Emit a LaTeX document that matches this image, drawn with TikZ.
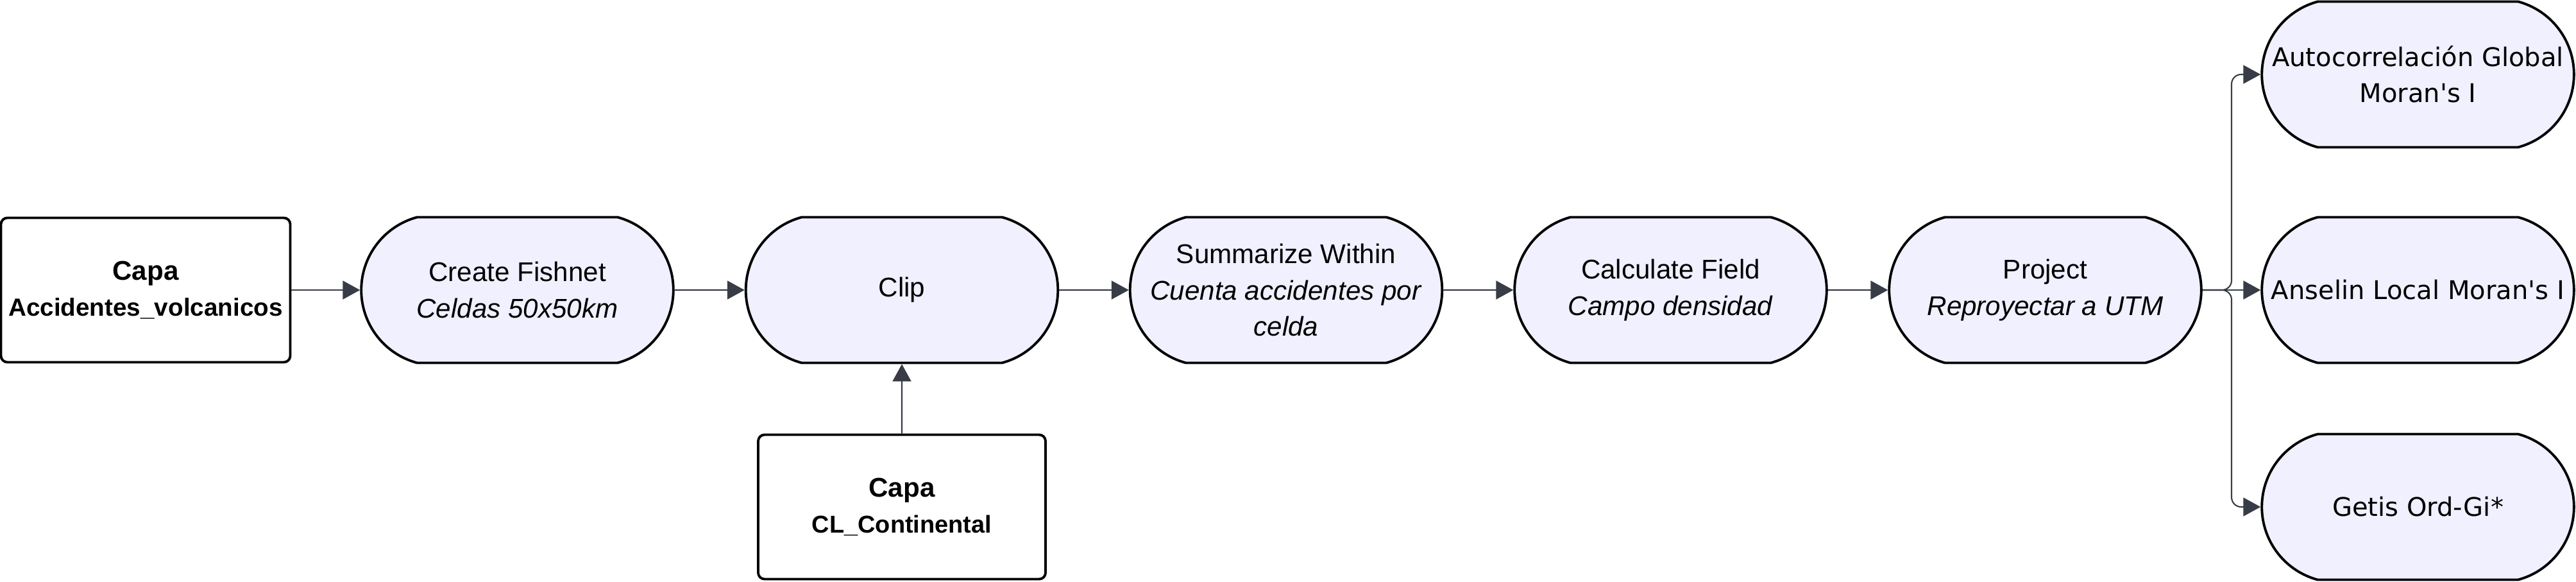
\documentclass[tikz,border=0pt]{standalone}
\usepackage{fontspec}
\setmainfont{Liberation Sans}
\newfontfamily\widefont{DejaVu Sans}
\usetikzlibrary{arrows.meta,shapes.misc}
\definecolor{procfill}{RGB}{240,240,255}
\definecolor{linkcol}{RGB}{55,60,70}

\begin{document}
\begin{tikzpicture}[
    proc/.style={rounded rectangle, rounded rectangle arc length=150, draw=black, line width=1.1pt,
      fill=procfill, minimum width=5.1cm, minimum height=2.27cm, align=center,
      font=\fontsize{12}{16}\selectfont},
    stat/.style={proc, font=\widefont\fontsize{11.4}{16}\selectfont},
    layer/.style={rectangle, rounded corners=0.1cm, draw=black, line width=1.1pt, fill=white,
      minimum width=4.48cm, minimum height=2.25cm, align=center,
      font=\bfseries\fontsize{12}{16}\selectfont},
    link/.style={draw=linkcol, line width=0.6pt, -{Triangle[length=0.27cm,width=0.29cm]}}]
  \useasboundingbox (0,0) rectangle (40.16,9.06);
  % input layers
  \node[layer] (acc) at (2.27,4.54) {Capa\\{\fontsize{11}{16}\selectfont Accidentes\_volcanicos}};
  \node[layer] (contin) at (14.06,1.16) {Capa\\{\fontsize{10.8}{16}\selectfont CL\_Continental}};
  % geoprocessing chain
  \node[proc] (fish) at (8.065,4.54) {Create Fishnet\\\textit{Celdas 50x50km}};
  \node[proc] (clip) at (14.06,4.54) {Clip};
  \node[proc] (summ) at (20.05,4.54) {Summarize Within\\\textit{Cuenta accidentes por}\\\textit{celda}};
  \node[proc] (calc) at (26.045,4.54) {Calculate Field\\\textit{Campo densidad}};
  \node[proc] (proj) at (31.885,4.54) {Project\\\textit{Reproyectar a UTM}};
  % spatial statistics
  \node[stat] (glob) at (37.695,7.90) {Autocorrelación Global\\Moran's I};
  \node[stat] (lisa) at (37.695,4.54) {Anselin Local Moran's I};
  \node[stat] (gistar) at (37.695,1.16) {Getis Ord-Gi*};
  \coordinate (fork) at (34.79,4.54);

  \draw[link] (acc) -- (fish);
  \draw[link] (fish) -- (clip);
  \draw[link] (contin) -- (clip);
  \draw[link] (clip) -- (summ);
  \draw[link] (summ) -- (calc);
  \draw[link] (calc) -- (proj);
  \draw[link, rounded corners=0.15cm] (proj.east) -- (fork) |- (glob.west);
  \draw[link] (proj.east) -- (lisa.west);
  \draw[link, rounded corners=0.15cm] (proj.east) -- (fork) |- (gistar.west);
\end{tikzpicture}
\end{document}
